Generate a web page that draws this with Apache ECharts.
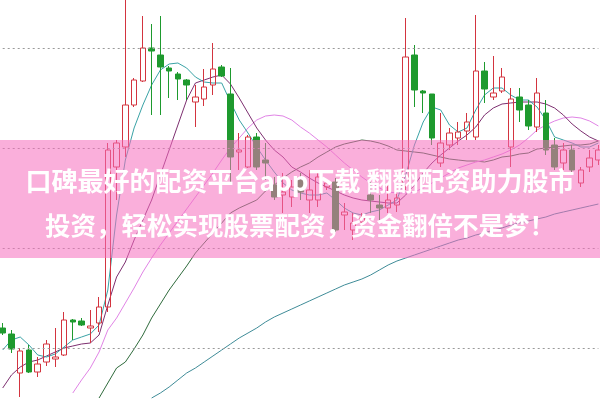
<!DOCTYPE html>
<html><head><meta charset="utf-8">
<script src="https://cdn.jsdelivr.net/npm/echarts@6/dist/echarts.min.js"></script>
<style>html,body{margin:0;padding:0;background:#fff}#c{width:600px;height:400px}</style>
</head><body><div id="c"></div>
<script>
// candle data: open, close, low, high (69 sessions)
var opens  = [12.0,11.4,7.5,9.8,7.6,8.6,8.9,9.3,12.8,12.7, 12.0,12.5,14.1,28.1,30.1,34.3,36.7,40.0,39.3,38.0, 37.4,36.8,34.6,34.9,36.3,38.1,35.4,29.6,28.1,31.1, 28.8,26.3,25.3,25.1,26.8,24.8,24.8,26.1,26.6,23.3, 21.8,22.6,25.3,24.3,24.0,24.3, 26.3,39.3,35.7,35.4,28.5,30.3,31.0,31.7,31.1,37.7,35.1,35.7,30.1,35.1,34.3,32.1,33.5,30.3,28.5,29.8,26.5,28.1,28.8];
var closes = [11.5,9.9,9.7,7.6,8.4,10.4,9.1,12.8,12.6,12.3, 12.2,14.1,29.8,30.5,34.3,36.8,40.0,39.7,38.1,37.7, 36.9,36.3,35.1,36.1,37.9,37.2,29.1,29.8,31.1,28.1, 28.5,25.1,25.6,26.1,25.6,25.8,27.1,26.5,21.8,23.6, 22.5,23.0,24.8,24.0,24.8,25.0, 39.1,35.8,35.5,31.0,30.5,31.5,31.6,32.6,37.7,35.9,35.5,37.1,34.9,33.8,32.2,35.5,29.8,28.1,29.8,27.8,27.8,29.0,29.8];
var lows   = [11.3,9.5,5.1,7.5,7.1,8.2,8.1,9.2,10.8,12.2, 10.5,11.6,13.6,24.8,29.1,34.1,36.6,33.3,33.3,35.0, 34.8,34.8,32.1,34.2,35.3,37.1,26.3,27.8,28.0,27.8, 26.8,24.8,23.5,24.1,24.8,23.5,24.1,25.8,21.6,21.8, 20.8,22.3,23.5,22.8,23.5,23.6, 25.8,34.1,33.5,30.3,28.1,29.8,30.3,30.8,30.8,34.5,34.8,35.5,28.1,32.6,31.8,31.6,29.3,27.8,27.8,27.6,26.1,27.6,28.3];
var highs  = [12.5,11.8,10.0,10.3,9.1,10.8,12.0,13.6,12.9,13.0, 13.8,15.1,30.5,30.8,45.8,37.0,43.2,42.4,43.2,38.2, 37.6,36.9,36.3,37.9,40.5,38.3,38.0,31.5,31.3,31.5, 30.5,27.1,27.5,26.8,27.5,27.8,27.5,26.8,27.0,24.5, 23.5,23.5,26.6,25.3,26.6,25.6, 43.0,40.3,35.8,35.4,33.5,32.0,32.6,33.5,43.3,38.6,39.2,38.0,36.0,36.0,34.8,37.0,34.8,31.0,30.5,30.3,28.1,29.8,30.3];
// moving averages
var ma5  = [9.8,10.8,11.1,10.3,9.3,9.1,9.4,10.1,10.8,11.1, 11.4,12.3,15.8,23.3,28.8,32.0,34.3,36.3,37.8,38.4, 38.5,38.0,37.1,36.6,36.5,36.5,34.6,32.8,31.5,30.1, 28.8,27.6,26.5,25.8,25.5,25.3,25.3,25.5,24.8,24.0, 23.5,23.3,23.6,23.8,24.3,24.8, 27.3,30.3,32.6,34.1,33.8,32.3,31.6,32.0,33.8,35.3,36.0,36.0,35.3,34.8,34.8,34.1,32.8,31.1,30.8,30.5,30.1,30.1,30.5];
var ma10 = [6.0,7.3,8.1,8.6,8.8,9.2,9.6,10.0,10.2,10.4, 10.5,11.3,14.3,17.1,18.6,20.8,22.8,24.8,27.3,29.8, 32.3,34.8,36.5,36.8,37.1,37.3,36.4,35.0,33.5,32.0, 30.8, 29.8,29.1,28.1,27.6,27.0,26.5,26.1,25.7,25.3,25.0, 24.8,24.7,24.6,24.5,24.5,25.3,26.3,27.5,28.5,29.3, 30.0,30.7,31.3,32.1,33.3,34.0,34.4,34.5,34.6,34.6, 34.6,34.4,34.0,33.3,32.4,31.7,31.1,30.7];
var ma20 = [null,null,null,null,null,null,null,null,5.5,6.8, 8.0,9.6,11.8,13.0,14.5,16.0,17.6,19.0,20.3,21.5, 22.7,23.9,25.1,26.3,27.5,28.8,30.0,31.0,32.0,32.8, 33.2,33.3,33.2,32.8,32.1,31.5,30.8,30.1,29.3,28.5, 27.8,27.1,26.5,26.0,25.6,25.5, 25.5,25.6,26.0,26.5,27.0,27.5,28.0,28.3,28.6,28.8,29.1,29.4,29.8,30.3,31.0,31.8,32.3,32.7,33.0,33.1,33.0,32.7,32.2];
var ma30 = [null,null,null,null,null,null,null,null,null,null, null,5.0,6.5,8.0,8.6,9.9,11.3,13.0,14.4,15.8, 17.0,18.2,19.5,20.5,21.5,22.5,23.5,24.0,24.4,24.8, 25.7,26.3,27.0,27.6,28.1,28.5,29.1,29.6,30.1,30.4, 30.6,30.8,30.7,30.5,30.2,29.8,29.7,29.6,29.5,29.3, 29.1,28.9,28.8,28.7,28.7,28.6,28.8,29.1,29.2,29.4, 29.5,29.9,30.0,30.1,30.2,30.3,30.3,30.4,30.7];
var ma60 = [null,null,null,null,null,null,null,null,null,null, null,null,null,null,null,null,null,5.0,5.5,6.1, 6.8,7.5,8.0,8.6,9.2,9.8,10.4,11.0,11.5,12.0, 12.6,13.1,13.5,13.9,14.3,14.7,15.1,15.5,15.9,16.3, 16.6,16.9,17.3,17.8,18.3,18.7,19.0,19.3,19.6,19.9, 20.2,20.5,20.8,21.0,21.3,21.5,21.8,22.0,22.3,22.5, 22.7,22.9,23.1,23.4,23.6,23.8,24.0,24.2,24.4];
var gridLevels = [10, 20, 30, 40];
var bannerLines = ['口碑最好的配资平台app下载 翻翻配资助力股市', '投资，轻松实现股票配资，资金翻倍不是梦！'];

var cats = opens.map(function(_, i){ return 'D' + (i + 1); });
var kdata = opens.map(function(o, i){ return [o, closes[i], lows[i], highs[i]]; });

function maSeries(name, data, color){
  return {name:name, type:'line', data:data, symbol:'none', connectNulls:false,
    lineStyle:{color:color, width:1}, z:3, silent:true, animation:false};
}

var chart = echarts.init(document.getElementById('c'), null, {renderer:'canvas'});
chart.setOption({
  animation:false,
  backgroundColor:'#ffffff',
  grid:{left:2.7, right:1.6, top:0, bottom:0, containLabel:false},
  xAxis:{type:'category', data:cats, boundaryGap:false, show:false},
  yAxis:{type:'value', min:4.8, max:44.8, show:false, splitLine:{show:false}},
  series:[
    maSeries('MA60', ma60, '#3f8c98'),
    maSeries('MA30', ma30, '#2f6b3c'),
    maSeries('MA20', ma20, '#e184e6'),
    maSeries('MA10', ma10, '#7d2f70'),
    maSeries('MA5',  ma5,  '#3aa3a6'),
    {type:'candlestick', data:kdata, barWidth:6, z:4, clip:true,
      itemStyle:{color:'rgba(255,255,255,0)', color0:'#1e9a2e', borderColor:'#d3343f', borderColor0:'#1e9a2e', borderWidth:1},
      markLine:{silent:true, symbol:['none','none'], label:{show:false}, animation:false,
        lineStyle:{color:'#9a9a9a', type:[2,3], width:1},
        data:gridLevels.map(function(v){ return {yAxis:v}; })}}
  ],
  graphic:[
    {type:'rect', z:100, shape:{x:0, y:140, width:600, height:118}, style:{fill:'rgba(245,110,190,0.55)'}},
    {type:'text', z:101, x:300, y:181, style:{text:bannerLines[0], fill:'#ffffff', font:'bold 26px "Noto Sans CJK SC"', textAlign:'center', textVerticalAlign:'middle'}},
    {type:'text', z:101, x:300, y:225, style:{text:bannerLines[1], fill:'#ffffff', font:'bold 25.5px "Noto Sans CJK SC"', textAlign:'center', textVerticalAlign:'middle'}}
  ]
});
</script></body></html>
